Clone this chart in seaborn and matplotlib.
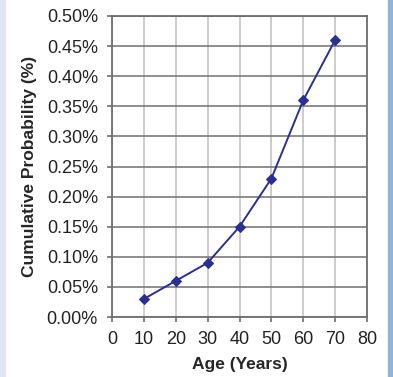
import numpy as np
import matplotlib
matplotlib.use("Agg")
import matplotlib.pyplot as plt
import matplotlib.patches as mpatches
from matplotlib.ticker import PercentFormatter
import seaborn as sns
import pandas as pd

ages = [10, 20, 30, 40, 50, 60, 70]
cum_prob = [0.03, 0.06, 0.09, 0.15, 0.23, 0.36, 0.46]

sns.set_style("white")
plt.rcParams['font.family'] = ['Liberation Sans', 'DejaVu Sans']

df = pd.DataFrame({"age": ages, "prob": cum_prob})

fig = plt.figure(figsize=(3.93, 3.77), dpi=100)
# side strips of the page background
fig.patches.append(mpatches.Rectangle((0, 0), 5 / 393, 1, transform=fig.transFigure,
                                      color="#dfe7f3", zorder=0))
fig.patches.append(mpatches.Rectangle((388 / 393, 0), 5 / 393, 1, transform=fig.transFigure,
                                      color="#8fb3d9", zorder=0))

ax = fig.add_axes([112 / 393, 60 / 377, 255 / 393, 301 / 377])
sns.lineplot(data=df, x="age", y="prob", ax=ax, color="#2b2f8f", linewidth=1.4,
             marker="D", markersize=5.5, markeredgecolor="#2b2f8f")

ax.set_xlim(0, 80)
ax.set_ylim(0, 0.5)
ax.set_xticks(np.arange(0, 81, 10))
ax.set_yticks(np.arange(0, 0.501, 0.05))
ax.yaxis.set_major_formatter(PercentFormatter(decimals=2))

ax.xaxis.grid(True, color="#c4c4c4", linewidth=1.2)
ax.yaxis.grid(True, color="#7a7a7a", linewidth=1.2)
ax.set_axisbelow(True)
for s in ax.spines.values():
    s.set_color("#6e6e6e")
    s.set_linewidth(1.3)

ax.tick_params(axis="both", direction="out", length=3.6, width=1.2, color="#6e6e6e",
               labelsize=13, labelcolor="#222222", bottom=True, left=True, pad=6.5)
ax.set_xlabel("Age (Years)", fontsize=12.5, fontweight="bold", labelpad=6.5)
ax.set_ylabel("Cumulative Probability (%)", fontsize=12.5, fontweight="bold", labelpad=7)

fig.savefig("out.png", dpi=100)
